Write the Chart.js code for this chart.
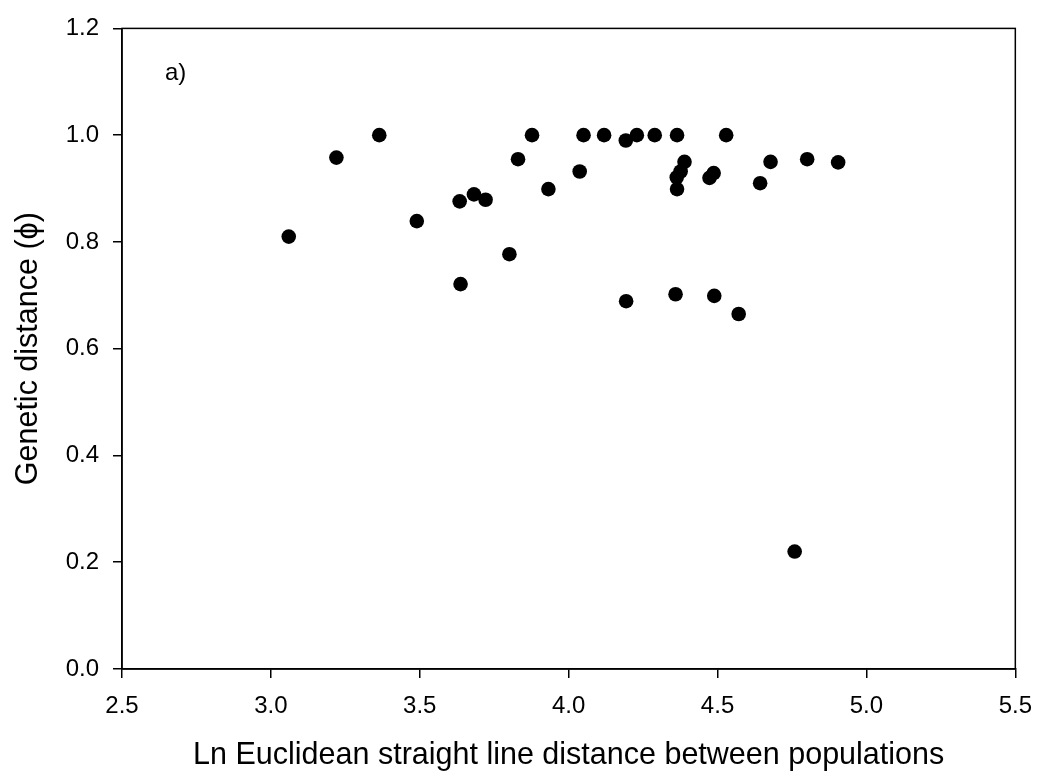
<!DOCTYPE html>
<html>
<head>
<meta charset="utf-8">
<script src="https://cdn.jsdelivr.net/npm/chart.js@4.4.1/dist/chart.umd.min.js"></script>
<style>
html,body{margin:0;padding:0;background:#fff;}
#wrap{width:1046px;height:780px;}
</style>
</head>
<body>
<div id="wrap"><canvas id="c" width="1046" height="780"></canvas></div>
<script>
// ---- data ----
const xValues = [3.06, 3.22, 3.364, 3.49, 3.634, 3.637, 3.682, 3.721, 3.801, 3.83, 3.877, 3.932, 4.037, 4.05, 4.119, 4.192, 4.193, 4.229, 4.289, 4.364, 4.359, 4.364, 4.363, 4.376, 4.389, 4.473, 4.487, 4.489, 4.529, 4.571, 4.643, 4.678, 4.759, 4.801, 4.905];
const yValues = [0.810, 0.958, 1.000, 0.839, 0.876, 0.721, 0.889, 0.879, 0.777, 0.955, 1.000, 0.899, 0.932, 1.000, 1.000, 0.990, 0.689, 1.000, 1.000, 1.000, 0.702, 0.899, 0.921, 0.932, 0.950, 0.920, 0.929, 0.699, 1.000, 0.665, 0.910, 0.950, 0.220, 0.955, 0.949];
const xTicks = [2.5, 3.0, 3.5, 4.0, 4.5, 5.0, 5.5];
const yTicks = [0.0, 0.2, 0.4, 0.6, 0.8, 1.0, 1.2];
const xTitle = "Ln Euclidean straight line distance between populations";
const yTitle = "Genetic distance (\u03d5)";
const panelLabel = "a)";

const FONT = "'Liberation Sans', Arial, Helvetica, sans-serif";

const points = xValues.map((x, i) => ({x: x, y: yValues[i]}));

const frame = {
  id: 'frame',
  afterDraw(chart) {
    const {ctx, chartArea: a} = chart;
    ctx.save();
    ctx.strokeStyle = '#000';
    ctx.lineWidth = 1.5;
    ctx.strokeRect(a.left, a.top, a.right - a.left, a.bottom - a.top);
    ctx.fillStyle = '#000';
    ctx.font = '24px ' + FONT;
    ctx.textBaseline = 'alphabetic';
    ctx.textAlign = 'left';
    ctx.fillText(panelLabel, a.left + 43, a.top + 52);
    ctx.restore();
  }
};

new Chart(document.getElementById('c'), {
  type: 'scatter',
  data: {
    datasets: [{
      data: points,
      backgroundColor: '#000',
      borderColor: '#000',
      borderWidth: 0,
      pointRadius: 7.3,
      pointHoverRadius: 7.3
    }]
  },
  options: {
    responsive: false,
    animation: false,
    layout: {padding: {top: 22, right: 26, left: 0, bottom: 0}},
    plugins: {legend: {display: false}, tooltip: {enabled: false}},
    scales: {
      x: {
        type: 'linear',
        min: xTicks[0],
        max: xTicks[xTicks.length - 1],
        afterBuildTicks: s => { s.ticks = xTicks.map(v => ({value: v})); },
        afterFit: s => { s.height = 111; },
        ticks: {
          color: '#000',
          font: {family: FONT, size: 24},
          padding: 14,
          maxRotation: 0,
          callback: v => Number(v).toFixed(1)
        },
        grid: {drawOnChartArea: false, drawTicks: true, tickLength: 9, color: '#000', lineWidth: 1.5},
        border: {display: true, color: '#000', width: 1.5},
        title: {display: true, text: xTitle, color: '#000', font: {family: FONT, size: 30.5}, padding: {top: 0, bottom: 6}}
      },
      y: {
        type: 'linear',
        min: yTicks[0],
        max: yTicks[yTicks.length - 1],
        afterBuildTicks: s => { s.ticks = yTicks.map(v => ({value: v})); },
        afterFit: s => { s.width = 122; },
        ticks: {
          color: '#000',
          font: {family: FONT, size: 24},
          padding: 14,
          callback: v => Number(v).toFixed(1)
        },
        grid: {drawOnChartArea: false, drawTicks: true, tickLength: 9, color: '#000', lineWidth: 1.5},
        border: {display: true, color: '#000', width: 1.5},
        title: {display: true, text: yTitle, color: '#000', font: {family: FONT, size: 30.5}, padding: {top: 10, bottom: 0}}
      }
    }
  },
  plugins: [frame]
});
</script>
</body>
</html>
